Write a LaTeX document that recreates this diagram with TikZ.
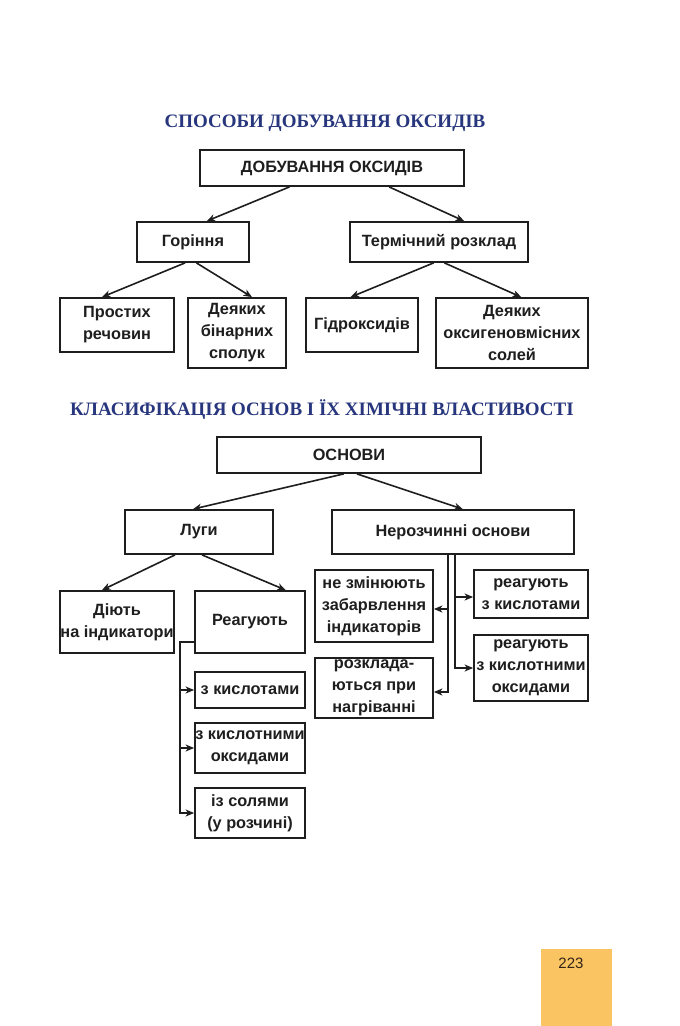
\documentclass[tikz,border=0pt]{standalone}
\usepackage{fontspec}
\setmainfont{Liberation Sans}
\newfontfamily\titlefont{Liberation Serif}
\usetikzlibrary{arrows.meta,calc}
\definecolor{navy}{RGB}{40,55,125}
\definecolor{pagebg}{RGB}{250,196,98}
\definecolor{ink}{RGB}{30,30,30}
\begin{document}
\begin{tikzpicture}[x=1pt,y=-1pt,line width=1.5pt,
  box/.style={draw=ink, line width=1.8pt, inner sep=0pt, align=center,
    font=\fontsize{16.3}{22}\selectfont\bfseries, text=ink},
  conn/.style={line width=1.6pt, draw=ink, -{Stealth[length=8.5pt,width=7pt,inset=2.5pt]}},
  ttl/.style={font=\titlefont\bfseries\fontsize{19}{19}\selectfont, text=navy, inner sep=0pt}]
\fill[white] (0,0) rectangle (680,1026);
\useasboundingbox (0,0) rectangle (680,1026);

% ---------- section 1 ----------
\node[ttl] (t1) at (325,123) {СПОСОБИ ДОБУВАННЯ ОКСИДІВ};
\node[box, minimum width=264, minimum height=36] (b1) at (332,168) {ДОБУВАННЯ ОКСИДІВ};
\node[box, minimum width=112, minimum height=40] (gor) at (193,242) {Горіння};
\node[box, minimum width=178, minimum height=40] (term) at (439,242) {Термічний розклад};
\node[box, minimum width=114, minimum height=54] (prost) at (117,325) {Простих\\речовин};
\node[box, minimum width=98, minimum height=70] (deyak) at (237,333) {Деяких\\бінарних\\сполук};
\node[box, minimum width=112, minimum height=54] (hidr) at (362,325) {Гідроксидів};
\node[box, minimum width=152, minimum height=70] (oksy) at (512,333) {Деяких\\оксигеновмісних\\солей};

\draw[conn] ($(b1.south west)!0.34!(b1.south east)$) -- ($(gor.north west)!0.62!(gor.north east)$);
\draw[conn] ($(b1.south west)!0.715!(b1.south east)$) -- ($(term.north west)!0.64!(term.north east)$);
\draw[conn] ($(gor.south west)!0.43!(gor.south east)$) -- ($(prost.north west)!0.37!(prost.north east)$);
\draw[conn] ($(gor.south west)!0.53!(gor.south east)$) -- ($(deyak.north west)!0.65!(deyak.north east)$);
\draw[conn] ($(term.south west)!0.47!(term.south east)$) -- ($(hidr.north west)!0.4!(hidr.north east)$);
\draw[conn] ($(term.south west)!0.53!(term.south east)$) -- ($(oksy.north west)!0.56!(oksy.north east)$);

% ---------- section 2 ----------
\node[ttl] (t2) at (322,410) {КЛАСИФІКАЦІЯ ОСНОВ І ЇХ ХІМІЧНІ ВЛАСТИВОСТІ};
\node[box, minimum width=264, minimum height=36] (osn) at (349,455) {ОСНОВИ};
\node[box, minimum width=148, minimum height=44] (lugy) at (199,532) {Луги};
\node[box, minimum width=242, minimum height=44] (neroz) at (453,532) {Нерозчинні основи};
\node[box, minimum width=114, minimum height=62] (diyut) at (117,622) {Діють\\на індикатори};
\node[box, minimum width=110, minimum height=62] (reag) at (250,622) {Реагують};
\node[box, minimum width=110, minimum height=36] (zk) at (250,690) {з кислотами};
\node[box, minimum width=110, minimum height=50] (zko) at (250,748) {з кислотними\\оксидами};
\node[box, minimum width=110, minimum height=50] (izs) at (250,813) {із солями\\(у розчині)};
\node[box, minimum width=118, minimum height=72] (nez) at (374,606) {не змінюють\\забарвлення\\індикаторів};
\node[box, minimum width=118, minimum height=60] (rozk) at (374,688) {розклада-\\ються при\\нагріванні};
\node[box, minimum width=114, minimum height=48] (rzk) at (531,594) {реагують\\з кислотами};
\node[box, minimum width=114, minimum height=66] (rzko) at (531,668) {реагують\\з кислотними\\оксидами};

\draw[conn] ($(osn.south west)!0.48!(osn.south east)$) -- ($(lugy.north west)!0.46!(lugy.north east)$);
\draw[conn] ($(osn.south west)!0.53!(osn.south east)$) -- ($(neroz.north west)!0.54!(neroz.north east)$);
\draw[conn] ($(lugy.south west)!0.34!(lugy.south east)$) -- ($(diyut.north west)!0.37!(diyut.north east)$);
\draw[conn] ($(lugy.south west)!0.52!(lugy.south east)$) -- ($(reag.north west)!0.82!(reag.north east)$);

% Луги branch
\coordinate (r0) at (180,642);
\draw[conn] (r0 -| reag.west) -- (r0) |- (izs.west);
\draw[conn] (r0 |- zk.west) -- (zk.west);
\draw[conn] (r0 |- zko.west) -- (zko.west);

% Нерозчинні branch
\coordinate (nl) at ($(neroz.south west)+(117,0)$);
\coordinate (nr) at ($(neroz.south west)+(124,0)$);
\coordinate (a1) at (nl |- 0,609);
\coordinate (a2) at (nl |- 0,692);
\coordinate (c1) at (nr |- 0,597);
\coordinate (c2) at (nr |- 0,668);
\draw[conn] (a1) -- (a1 -| nez.east);
\draw[conn] (nl) -- (a2) -- (a2 -| rozk.east);
\draw[conn] (c1) -- (c1 -| rzk.west);
\draw[conn] (nr) -- (c2) -- (c2 -| rzko.west);

% page number
\node[fill=pagebg, minimum width=71, minimum height=78, inner sep=0pt, anchor=north west] (pg) at (540,948) {};
\node[font=\fontsize{15}{15}\selectfont, text={rgb,255:red,50;green,35;blue,20}, inner sep=0pt] (pgn) at (571,963) {223};
\end{tikzpicture}
\end{document}
